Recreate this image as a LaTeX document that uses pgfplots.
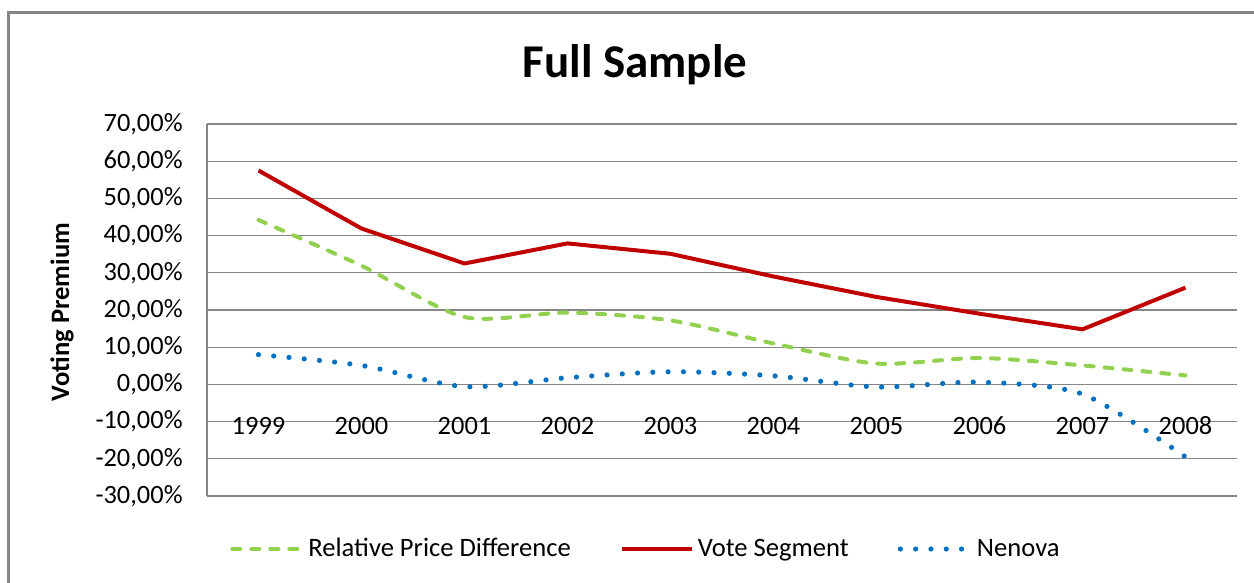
\documentclass[border=0pt]{standalone}
\usepackage{fontspec}
\setmainfont{Carlito}
\usepackage{pgfplots}
\pgfplotsset{compat=1.18}
\definecolor{rpd}{RGB}{146,208,80}
\definecolor{vseg}{RGB}{192,0,0}
\definecolor{nen}{RGB}{0,112,192}
\definecolor{gridg}{RGB}{134,134,134}
\begin{document}
\begin{tikzpicture}
\useasboundingbox (0,0) rectangle (627pt,291.5pt);
\draw[gridg, line width=1.5pt] (4pt,-2pt) -- (4pt,285pt) -- (630pt,285pt);
\node[font=\fontsize{23.5}{28}\selectfont\bfseries, anchor=base] at (317.5pt,252.5pt) {Full Sample};
\begin{axis}[
  at={(103.5pt,43.5pt)}, anchor=south west,
  scale only axis, width=515pt, height=186pt,
  xmin=-0.5, xmax=9.5, ymin=-30, ymax=70,
  axis x line*=bottom, axis y line*=left,
  axis line style={gridg, line width=0.6pt},
  ymajorgrids, grid style={gridg, line width=0.6pt},
  major tick length=0pt,
  xtick={0,...,9},
  xticklabels={1999,2000,2001,2002,2003,2004,2005,2006,2007,2008},
  xticklabel style={anchor=center, yshift=35pt, font=\fontsize{13.2}{15}\selectfont},
  ytick={-30,-20,...,70},
  yticklabels={{-30,00\%},{-20,00\%},{-10,00\%},{0,00\%},{10,00\%},{20,00\%},{30,00\%},{40,00\%},{50,00\%},{60,00\%},{70,00\%}},
  yticklabel style={anchor=east, inner sep=0pt, xshift=-12pt, font=\fontsize{13.2}{15}\selectfont},
  ylabel={Voting Premium},
  every axis y label/.style={at={(axis description cs:-0.1408,0.4946)}, rotate=90, anchor=center, font=\fontsize{13.3}{15}\selectfont\bfseries},
  legend columns=3,
  legend image code/.code={\draw[#1] (0pt,0pt) -- (35pt,0pt);},
  legend style={at={(axis description cs:0.0223,-0.1425)}, anchor=west, draw=none, fill=none, inner sep=0pt,
    cells={anchor=west}, nodes={inner xsep=2pt, inner ysep=1pt},
    font=\fontsize{13.3}{15}\selectfont,
    /tikz/every even column/.append style={column sep=22.5pt}},
  clip=false,
]
\addplot[rpd, line width=2pt, line cap=round, dash pattern=on 4pt off 5.5pt, smooth, tension=0.45] coordinates {
(0,44.2) (1,31.9) (2,18.1) (3,19.3) (4,17.2) (5,11.0) (6,5.6) (7,7.1) (8,5.1) (9,2.4)};
\addlegendentry{Relative Price Difference}
\addplot[vseg, line width=2pt, line join=round] coordinates {
(0,57.5) (1,41.9) (2,32.5) (3,37.9) (4,35.1) (5,29.0) (6,23.5) (7,19.0) (8,14.8) (9,26.0)};
\addlegendentry{Vote Segment}
\addplot[nen, line width=2.6pt, line cap=round, dash pattern=on 0pt off 7.65pt, smooth, tension=0.45] coordinates {
(0,8.0) (1,5.1) (2,-0.6) (3,1.8) (4,3.4) (5,2.3) (6,-0.7) (7,0.6) (8,-2.6) (9,-19.5)};
\addlegendentry{Nenova}
\end{axis}
\end{tikzpicture}
\end{document}
